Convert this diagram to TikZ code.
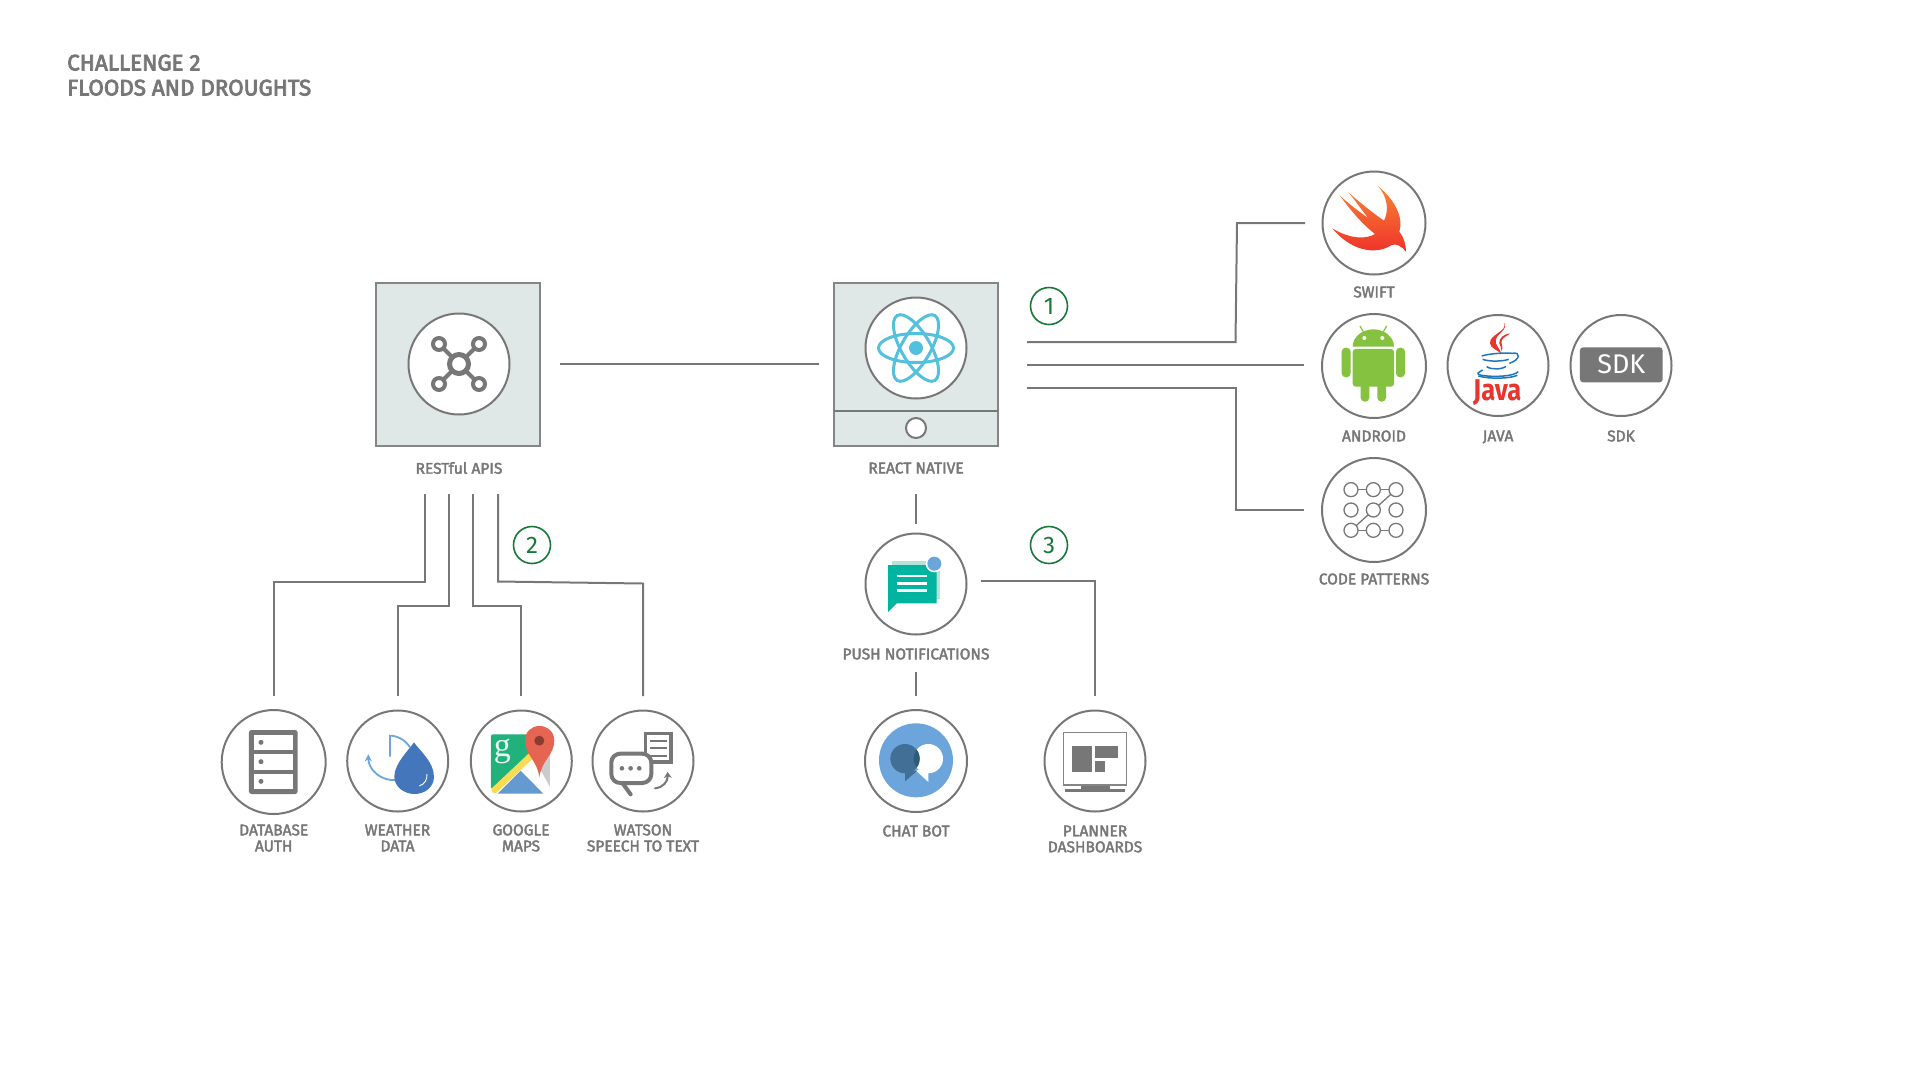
\documentclass[tikz,border=0pt]{standalone}
\usepackage{fontspec}
\setmainfont{Fira Sans}
\newfontfamily\serifface{Liberation Serif}
\newfontfamily\capface[FakeBold=2.5]{Fira Sans}
\newfontfamily\titleface[FakeBold=3.5]{Fira Sans}
\usepackage{xcolor}
\usetikzlibrary{
  arrows.meta
}
\definecolor{linegray}{HTML}{777777}
\definecolor{boxfill}{HTML}{DFE8E6}
\definecolor{stepgreen}{HTML}{17783A}
\definecolor{reactblue}{HTML}{53C1DE}
\definecolor{droidgreen}{HTML}{85C240}
\definecolor{javared}{HTML}{E8352D}
\definecolor{javablue}{HTML}{1F77BC}
\definecolor{softblue}{HTML}{6CA5DC}
\definecolor{dropblue}{HTML}{4476BB}
\definecolor{mapgreen}{HTML}{20B27A}
\definecolor{mapyellow}{HTML}{F9DC55}
\definecolor{mapblue}{HTML}{649ACF}
\definecolor{mapred}{HTML}{E56552}
\definecolor{teal}{HTML}{00B4A0}
\definecolor{tealsoft}{HTML}{B5E2D9}
\definecolor{chatdark}{HTML}{426F96}
\definecolor{chatdeep}{HTML}{2D5B7A}
\definecolor{swifttop}{HTML}{F78536}
\definecolor{swiftlow}{HTML}{EF2D2A}

\begin{document}
\begin{tikzpicture}[
    x=1pt,y=-1pt,
    icon/.style={
        draw=linegray,
        line width=2pt,
        circle,
        fill=white,
        minimum size=#1pt,
        inner sep=0pt
      },icon/.default=101,
    panel/.style={
        draw=linegray!90,
        line width=2pt,
        fill=boxfill,
        minimum width=164pt,
        minimum height=163pt,
        inner sep=0pt
      },
    caption/.style={
        font=\capface\fontsize{15.5}{16}\selectfont,
        text=linegray,
        align=center,
        inner sep=0pt
      },
    badge/.style={
        draw=stepgreen,
        line width=1.6pt,
        circle,
        minimum size=37pt,
        inner sep=0pt,
        text=stepgreen,
        font=\fontsize{24}{24}\selectfont
      },
    wire/.style={
        draw=linegray,
        line width=2pt
      },
    crop/.style 2 args={
        shift={(#1,#2)},
        x=.3333pt,
        y=-.3333pt
      }
  ]

  \useasboundingbox (0,0) rectangle (1920,1080);

  % title
  \node[
    font=\titleface\fontsize{22.4}{25}\selectfont,
    text=linegray,
    align=left,
    anchor=north west,
    inner sep=0pt
  ] (title) at (67,54.5) {CHALLENGE 2\\FLOODS AND DROUGHTS};

  % panels
  \node[panel] (rest_panel) at (458,364.5) {};
  \node[panel] (react_panel) at (916,364.5) {};
  \coordinate (react_div_l) at (834,411);
  \coordinate (react_div_r) at (998,411);
  \draw[wire] (react_div_l) -- (react_div_r);
  \node[icon] (rest) at (459,364) {};
  \node[icon] (react) at (916,348) {};
  \node[icon=20] (react_home) at (916,428) {};
  \node[caption] (rest_label) at (459,468) {RESTful APIS};
  \node[caption] (react_label) at (916,468) {REACT NATIVE};

  % right column
  \node[icon=103] (swift) at (1374,223) {};
  \node[icon=104] (android) at (1374,366) {};
  \node[icon] (java) at (1498,365.5) {};
  \node[icon] (sdk) at (1621,365.5) {};
  \node[icon=104] (patterns) at (1374,510) {};
  \node[caption] (swift_label) at (1374,292) {SWIFT};
  \node[caption] (android_label) at (1374,436) {ANDROID};
  \node[caption] (java_label) at (1498,437) {JAVA};
  \node[caption] (sdk_label) at (1621,436) {SDK};
  \node[caption] (patterns_label) at (1374,579) {CODE PATTERNS};

  % bottom row
  \node[icon=104] (database) at (273.7,762) {};
  \node[icon] (weather) at (397.7,761) {};
  \node[icon] (maps) at (521.3,761) {};
  \node[icon] (watson) at (643,761) {};
  \node[icon] (push) at (916,584) {};
  \node[icon=102] (chat) at (916,761) {};
  \node[icon] (planner) at (1095,761) {};
  \node[caption] (database_label) at (273.7,838) {DATABASE\\AUTH};
  \node[caption] (weather_label) at (397.5,838) {WEATHER\\DATA};
  \node[caption] (maps_label) at (521,838) {GOOGLE\\MAPS};
  \node[caption] (watson_label) at (643,838) {WATSON\\SPEECH TO TEXT};
  \node[caption] (push_label) at (916,654) {PUSH NOTIFICATIONS};
  \node[caption] (chat_label) at (916,831) {CHAT BOT};
  \node[caption] (planner_label) at (1095,839) {PLANNER\\DASHBOARDS};

  % numbered marks
  \node[badge] (step_one) at (1049,306) {1};
  \node[badge] (step_two) at (532,545) {2};
  \node[badge] (step_three) at (1049,545) {3};

  % wire ends
  \coordinate (rest_out) at (560,364);
  \coordinate (react_in) at (819,364);
  \coordinate (swift_out) at (1027,342);
  \coordinate (swift_in) at (1305,223);
  \coordinate (android_out) at (1027,365);
  \coordinate (android_in) at (1304,365);
  \coordinate (patterns_out) at (1027,388);
  \coordinate (patterns_in) at (1304,510);
  \coordinate (database_out) at (425,494);
  \coordinate (database_in) at (274,696);
  \coordinate (weather_out) at (449,494);
  \coordinate (weather_in) at (398,696);
  \coordinate (maps_out) at (473,494);
  \coordinate (maps_in) at (521,696);
  \coordinate (watson_out) at (498,494);
  \coordinate (watson_in) at (643,696);
  \coordinate (push_out) at (916,494);
  \coordinate (push_in) at (916,524);
  \coordinate (chat_out) at (916,672);
  \coordinate (chat_in) at (916,696);
  \coordinate (planner_out) at (981,581);
  \coordinate (planner_in) at (1095,696);

  % wires
  \draw[wire] (rest_out) -- (react_in);
  \draw[wire] (swift_out) -- (1235.5,342) -- (1237,223) -- (swift_in);
  \draw[wire] (android_out) -- (android_in);
  \draw[wire] (patterns_out) -- (1235.5,388) -- (1235.5,510) -- (patterns_in);
  \draw[wire] (database_out) -- (425,581.5) -- (274,581.5) -- (database_in);
  \draw[wire] (weather_out) -- (449,605.5) -- (398,605.5) -- (weather_in);
  \draw[wire] (maps_out) -- (473,605.5) -- (521,605.5) -- (maps_in);
  \draw[wire] (watson_out) -- (498,581.5) -- (643,583.5) -- (watson_in);
  \draw[wire] (push_out) -- (push_in);
  \draw[wire] (chat_out) -- (chat_in);
  \draw[wire] (planner_out) -- (1095,581) -- (planner_in);

  % network mark
  \begin{scope}[shift={(459,364)},draw=linegray,line width=4pt]
    \foreach \a/\b in {-20/-20,20/-20,-20/20,20/20} {
      \draw (0,0) -- (\a,\b);
      \draw[fill=white] (\a,\b) circle (6);
    }
    \draw[fill=white,line width=5pt] (0,0) circle (9.5);
  \end{scope}

  % atom mark
  \begin{scope}[shift={(916,348)},line width=3pt]
    \draw[reactblue] (0,0) ellipse (37.5 and 14.5);
    \draw[reactblue,rotate=60] (0,0) ellipse (37.5 and 14.5);
    \draw[reactblue,rotate=120] (0,0) ellipse (37.5 and 14.5);
    \fill[reactblue] (0,0) circle (7);
  \end{scope}

  % swift mark
  \begin{scope}[crop={1300}{150}]
    \shade[top color=swifttop,bottom color=swiftlow]
      (234,108) .. controls (290,155) and (310,205) .. (298,245)
      .. controls (312,262) and (318,285) .. (318,305)
      .. controls (305,288) and (288,280) .. (275,285)
      .. controls (225,318) and (150,300) .. (97,235)
      .. controls (150,268) and (200,268) .. (225,252)
      .. controls (190,225) and (150,180) .. (120,137)
      .. controls (150,165) and (185,190) .. (205,205)
      .. controls (185,180) and (165,150) .. (145,127)
      .. controls (180,158) and (220,190) .. (252,212)
      .. controls (268,180) and (262,140) .. (234,108) -- cycle;
  \end{scope}

  % android mark
  \begin{scope}[crop={1300}{150},fill=droidgreen]
    \fill (158,590) .. controls (158,560) and (188,538) .. (220,538)
      .. controls (252,538) and (282,560) .. (282,590) -- cycle;
    \draw[droidgreen,line width=1.2pt] (190,545) -- (180,528);
    \draw[droidgreen,line width=1.2pt] (250,545) -- (260,528);
    \fill[white] (193,564) circle (6);
    \fill[white] (247,564) circle (6);
    \fill[rounded corners=3pt] (158,597) rectangle (282,710);
    \fill[rounded corners=4pt] (125,593) rectangle (152,682);
    \fill[rounded corners=4pt] (288,593) rectangle (315,682);
    \fill[rounded corners=4pt] (182,695) rectangle (208,755);
    \fill[rounded corners=4pt] (232,695) rectangle (258,755);
  \end{scope}

  % java mark
  \begin{scope}[crop={1300}{150}]
    \fill[javared] (612,517) .. controls (625,545) and (568,552) .. (570,580)
      .. controls (572,595) and (592,600) .. (605,612)
      .. controls (600,595) and (583,585) .. (588,568)
      .. controls (592,550) and (625,540) .. (612,517) -- cycle;
    \fill[javared] (630,550) .. controls (612,552) and (596,565) .. (598,580)
      .. controls (600,590) and (606,595) .. (605,604)
      .. controls (612,590) and (600,580) .. (606,570)
      .. controls (610,562) and (622,558) .. (630,550) -- cycle;
    \begin{scope}[draw=javablue,line width=1.5pt]
      \draw (545,618) .. controls (570,610) and (620,608) .. (636,610);
      \draw (636,610) .. controls (665,605) and (660,630) .. (628,640);
      \draw (548,628) .. controls (570,636) and (610,634) .. (626,628);
      \draw (560,650) .. controls (575,660) and (605,658) .. (618,650);
      \draw (548,660) .. controls (535,668) and (525,672) .. (545,676)
        .. controls (580,682) and (640,680) .. (655,665);
      \draw (535,678) .. controls (570,688) and (630,686) .. (652,676);
    \end{scope}
    \node[
      text=javared,
      font=\fontsize{30}{30}\selectfont\bfseries,
      inner sep=0pt,
      transform shape,
      xscale=.85
    ] (java_word) at (592,728) {Java};
  \end{scope}

  % sdk mark
  \begin{scope}[crop={1300}{150}]
    \fill[linegray,rounded corners=3pt] (840,592) rectangle (1088,697);
    \node[
      text=white,
      font=\fontsize{27}{27}\selectfont,
      inner sep=0pt
    ] (sdk_word) at (964,642) {SDK};
  \end{scope}

  % pattern mark
  \begin{scope}[crop={1300}{300},draw=linegray,line width=1.3pt]
    \draw (153,569) -- (288,569);
    \draw (153,691) -- (288,691);
    \draw (288,569) -- (153,691);
    \foreach \px in {153,220,288} {
      \foreach \py in {569,630,691} {
        \draw[fill=white] (\px,\py) circle (21);
      }
    }
  \end{scope}

  % database mark
  \begin{scope}[crop={200}{700}]
    \fill[linegray,rounded corners=2.5pt] (147,90) rectangle (293,282);
    \foreach \py in {105,163,222} {
      \fill[white] (162,\py) rectangle (280,\py+46);
      \fill[linegray] (183,\py+22) circle (7.5);
    }
  \end{scope}

  % weather mark
  \begin{scope}[crop={200}{700}]
    \draw[softblue,line width=1.8pt] (570,170) -- (570,107)
      .. controls (590,107) and (615,118) .. (630,142);
    \draw[softblue,line width=1.8pt,{Stealth[length=7pt,width=7pt]}-]
      (505,163) .. controls (505,210) and (545,245) .. (590,240);
    \fill[dropblue] (642,127) .. controls (657,150) and (702,185) .. (702,230)
      .. controls (702,262) and (674,282) .. (644,282)
      .. controls (612,282) and (583,260) .. (583,230)
      .. controls (583,190) and (627,150) .. (642,127) -- cycle;
    \draw[white,line width=.9pt] (681,222) .. controls (682,240) and (674,252) .. (658,258);
  \end{scope}

  % map mark
  \begin{scope}[crop={200}{700}]
    \fill[black!20] (985,170) -- (1050,130) -- (1050,262) -- cycle;
    \fill[mapgreen,rounded corners=2pt] (873,103) -- (985,103) -- (1000,150)
      -- (873,268) -- cycle;
    \fill[white] (962,208) -- (1000,170) -- (1050,262) -- (1030,280) -- cycle;
    \fill[mapblue] (893,281) -- (1030,281) -- (962,212) -- cycle;
    \draw[mapyellow,line width=6.5pt,line cap=round] (884,270) -- (998,163);
    \fill[mapred] (975,122) .. controls (975,95) and (995,78) .. (1018,78)
      .. controls (1042,78) and (1063,95) .. (1063,122)
      .. controls (1063,165) and (1025,180) .. (1018,232)
      .. controls (1012,180) and (975,165) .. (975,122) -- cycle;
    \fill[mapred!60!black] (1018,122) circle (15);
    \node[
      text=white!90!mapgreen,
      font=\serifface\fontsize{34}{34}\selectfont,
      inner sep=0pt
    ] (maps_letter) at (907,153) {g};
  \end{scope}

  % speech mark
  \begin{scope}[crop={200}{700}]
    \draw[linegray,line width=3.2pt,fill=white] (1337,100) rectangle (1413,186);
    \foreach \py in {122,145,168} {
      \draw[linegray,line width=1.7pt] (1350,\py) -- (1402,\py);
    }
    \draw[linegray,line width=4pt,line cap=round] (1268,250) -- (1292,283);
    \draw[linegray,line width=4pt,fill=white,rounded corners=9pt]
      (1234,161) rectangle (1354,249);
    \foreach \px in {1266,1292,1318} {
      \fill[linegray] (\px,205) circle (7);
    }
    \draw[linegray,line width=2pt,line cap=round,-{Stealth[length=6pt,width=8pt]}]
      (1365,265) .. controls (1390,262) and (1404,245) .. (1403,216);
  \end{scope}

  % push mark
  \begin{scope}[crop={840}{520}]
    \fill[tealsoft] (155,123) rectangle (300,238);
    \fill[teal] (144,135) -- (290,135) -- (290,250) -- (170,250) -- (144,276) -- cycle;
    \foreach \py in {168,190,211} {
      \draw[white,line width=2.4pt] (172,\py) -- (261,\py);
    }
    \fill[white] (283,131) circle (26);
    \fill[softblue] (283,131) circle (21);
  \end{scope}

  % chat mark
  \begin{scope}[crop={840}{520}]
    \fill[softblue] (228,721) circle (111);
    \fill[white] (265,716) circle (44);
    \fill[white] (228,752) -- (265,786) -- (265,740) -- cycle;
    \fill[chatdark] (195,716) circle (44);
    \fill[chatdark] (195,750) -- (195,784) -- (232,752) -- cycle;
    \begin{scope}
      \clip (265,716) circle (44);
      \fill[chatdeep] (195,716) circle (44);
    \end{scope}
  \end{scope}

  % planner mark
  \begin{scope}[crop={840}{520}]
    \draw[linegray!90,line width=1.4pt,fill=white] (671,638) rectangle (860,795);
    \fill[linegray] (697,679) rectangle (757,755);
    \fill[linegray] (766,679) rectangle (834,713);
    \fill[linegray] (766,722) rectangle (796,755);
    \fill[linegray] (722,797) rectangle (810,806);
    \fill[linegray] (675,806) rectangle (856,817);
  \end{scope}

\end{tikzpicture}
\end{document}
